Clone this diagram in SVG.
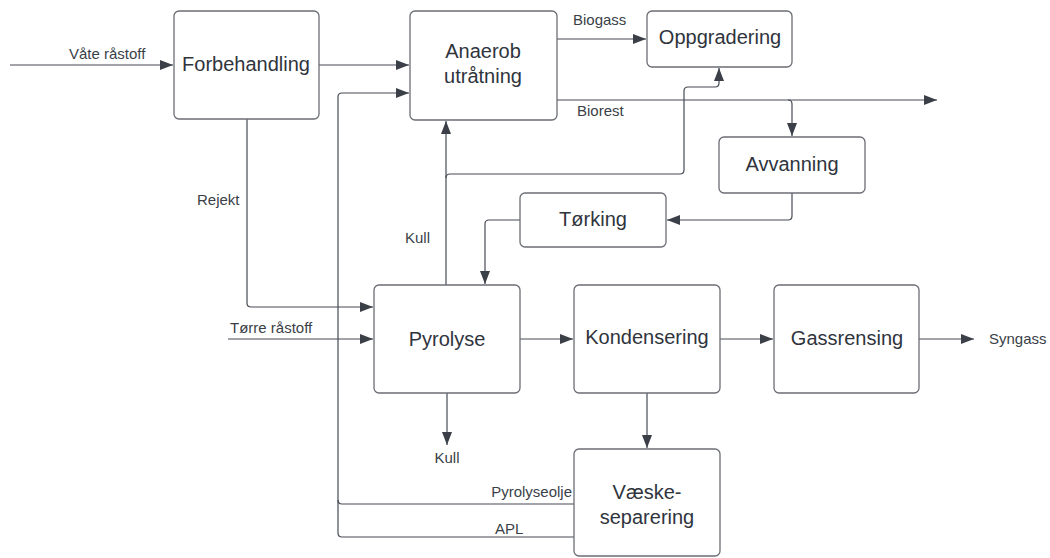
<svg xmlns="http://www.w3.org/2000/svg" width="1050" height="558" viewBox="0 0 1050 558">
<style>
.box{fill:#fff;stroke:#6b6e75;stroke-width:1.3}
.nt{font-family:"Liberation Sans",Arial,sans-serif;font-size:20px;fill:#2f343d;text-anchor:middle;dominant-baseline:central}
.lbl{font-family:"Liberation Sans",Arial,sans-serif;font-size:15px;fill:#3a3f48}
.c{fill:none;stroke:#464b55;stroke-width:1.2}
</style>
<defs>
<marker id="ah" markerUnits="userSpaceOnUse" markerWidth="14" markerHeight="10" refX="13" refY="5" orient="auto">
<path d="M0,0 L13,5 L0,10 Z" fill="#3a3f48"/>
</marker>
</defs>
<rect width="1050" height="558" fill="#fff"/>
<g id="connectors">
<path class="c" d="M10,65 H173" marker-end="url(#ah)"/>
<path class="c" d="M319,65 H409" marker-end="url(#ah)"/>
<path class="c" d="M557,39 H646" marker-end="url(#ah)"/>
<path class="c" d="M557,100 H937" marker-end="url(#ah)"/>
<path class="c" d="M788,100 Q792,100 792,104 V136" marker-end="url(#ah)"/>
<path class="c" d="M792,193 V216 Q792,220 788,220 H667" marker-end="url(#ah)"/>
<path class="c" d="M520,220 H489 Q485,220 485,224 V284" marker-end="url(#ah)"/>
<path class="c" d="M446,285 V121" marker-end="url(#ah)"/>
<path class="c" d="M446,178 Q446,174 450,174 H680 Q684,174 684,170 V91 Q684,87 688,87 H715 Q719,87 719,83 V68" marker-end="url(#ah)"/>
<path class="c" d="M247,119 V303 Q247,307 251,307 H373" marker-end="url(#ah)"/>
<path class="c" d="M228,339 H373" marker-end="url(#ah)"/>
<path class="c" d="M520,339 H573" marker-end="url(#ah)"/>
<path class="c" d="M720,339 H773" marker-end="url(#ah)"/>
<path class="c" d="M919,339 H974" marker-end="url(#ah)"/>
<path class="c" d="M447,393 V445" marker-end="url(#ah)"/>
<path class="c" d="M647,393 V448" marker-end="url(#ah)"/>
<path class="c" d="M574,504 H342 Q338,504 338,500 V97 Q338,93 342,93 H409" marker-end="url(#ah)"/>
<path class="c" d="M574,537 H342 Q338,537 338,533 V500"/>
</g>
<g id="edge-labels">
<text class="lbl" x="69" y="59">Våte råstoff</text>
<text class="lbl" x="573" y="25">Biogass</text>
<text class="lbl" x="577" y="116">Biorest</text>
<text class="lbl" x="197" y="205">Rejekt</text>
<text class="lbl" x="405" y="243">Kull</text>
<text class="lbl" x="230" y="333">Tørre råstoff</text>
<text class="lbl" x="447" y="463" text-anchor="middle">Kull</text>
<text class="lbl" x="572" y="497" text-anchor="end">Pyrolyseolje</text>
<text class="lbl" x="495" y="534">APL</text>
<text class="lbl" x="989" y="344">Syngass</text>
</g>
<g id="forbehandling"><rect class="box" x="174" y="11" width="145" height="108" rx="5"/><text class="nt" x="246" y="64">Forbehandling</text></g>
<g id="anaerob"><rect class="box" x="410" y="11" width="147" height="109" rx="5"/><text class="nt" x="483" y="51">Anaerob</text><text class="nt" x="483" y="76">utråtning</text></g>
<g id="oppgradering"><rect class="box" x="647" y="11" width="145" height="56" rx="5"/><text class="nt" x="720" y="37">Oppgradering</text></g>
<g id="avvanning"><rect class="box" x="719" y="137" width="146" height="56" rx="5"/><text class="nt" x="792" y="164">Avvanning</text></g>
<g id="torking"><rect class="box" x="520" y="193" width="146" height="54" rx="5"/><text class="nt" x="593" y="219">Tørking</text></g>
<g id="pyrolyse"><rect class="box" x="374" y="285" width="146" height="108" rx="5"/><text class="nt" x="447" y="339">Pyrolyse</text></g>
<g id="kondensering"><rect class="box" x="574" y="285" width="146" height="108" rx="5"/><text class="nt" x="647" y="337">Kondensering</text></g>
<g id="gassrensing"><rect class="box" x="774" y="285" width="145" height="108" rx="5"/><text class="nt" x="847" y="338">Gassrensing</text></g>
<g id="vaeskeseparering"><rect class="box" x="574" y="449" width="146" height="107" rx="5"/><text class="nt" x="647" y="492">Væske-</text><text class="nt" x="647" y="517">separering</text></g>
</svg>
